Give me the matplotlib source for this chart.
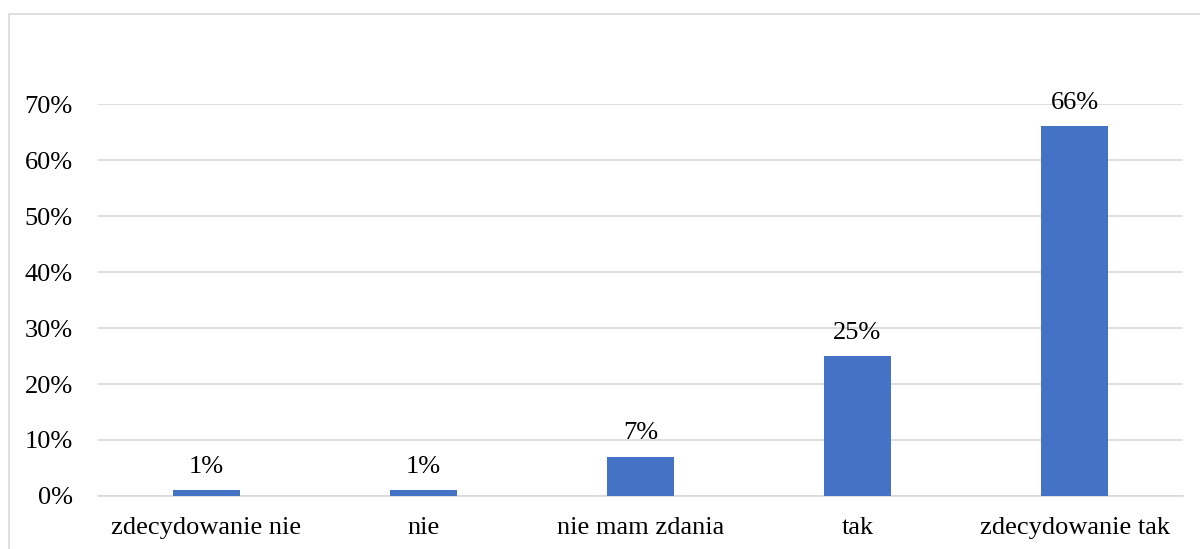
import matplotlib.pyplot as plt
from matplotlib.patches import Rectangle
from matplotlib.ticker import PercentFormatter

categories = ["zdecydowanie nie", "nie", "nie mam zdania", "tak", "zdecydowanie tak"]
values = [1, 1, 7, 25, 66]
value_labels = ["1%", "1%", "7%", "25%", "66%"]
y_ticks = [0, 10, 20, 30, 40, 50, 60, 70]

plt.rcParams['font.family'] = ['Liberation Serif', 'DejaVu Serif']

fig = plt.figure(figsize=(12, 5.49), dpi=100)

# chart frame (runs off the right and bottom edges)
fig.patches.append(Rectangle((9 / 1200, -0.1), 1.2, 1 - 14 / 549 + 0.1,
                             transform=fig.transFigure, fill=False,
                             edgecolor="#D9D9D9", linewidth=1.2))

ax = fig.add_axes([98 / 1200, 1 - 496 / 549, (1183 - 98) / 1200, (496 - 104) / 549])
x = range(len(categories))
bars = ax.bar(x, values, width=0.31, color="#4472C4", zorder=3)

ax.set_xlim(-0.5, len(categories) - 0.5)
ax.set_ylim(0, 70)
ax.set_yticks(y_ticks)
ax.yaxis.set_major_formatter(PercentFormatter(decimals=0))
ax.set_xticks(list(x))
ax.set_xticklabels(categories)
ax.grid(axis="y", color="#D9D9D9", linewidth=1.2, zorder=0)
for s in ["top", "right", "left"]:
    ax.spines[s].set_visible(False)
ax.spines["bottom"].set_color("#D9D9D9")
ax.spines["bottom"].set_linewidth(1.2)
ax.tick_params(axis="both", length=0, labelsize=19)
ax.tick_params(axis="y", pad=18)
ax.tick_params(axis="x", pad=15)

for bar, lab in zip(bars, value_labels):
    ax.annotate(lab, (bar.get_x() + bar.get_width() / 2, bar.get_height()),
                xytext=(0, 9), textcoords="offset points",
                ha="center", va="bottom", fontsize=19)

fig.savefig("out.png", dpi=100)
